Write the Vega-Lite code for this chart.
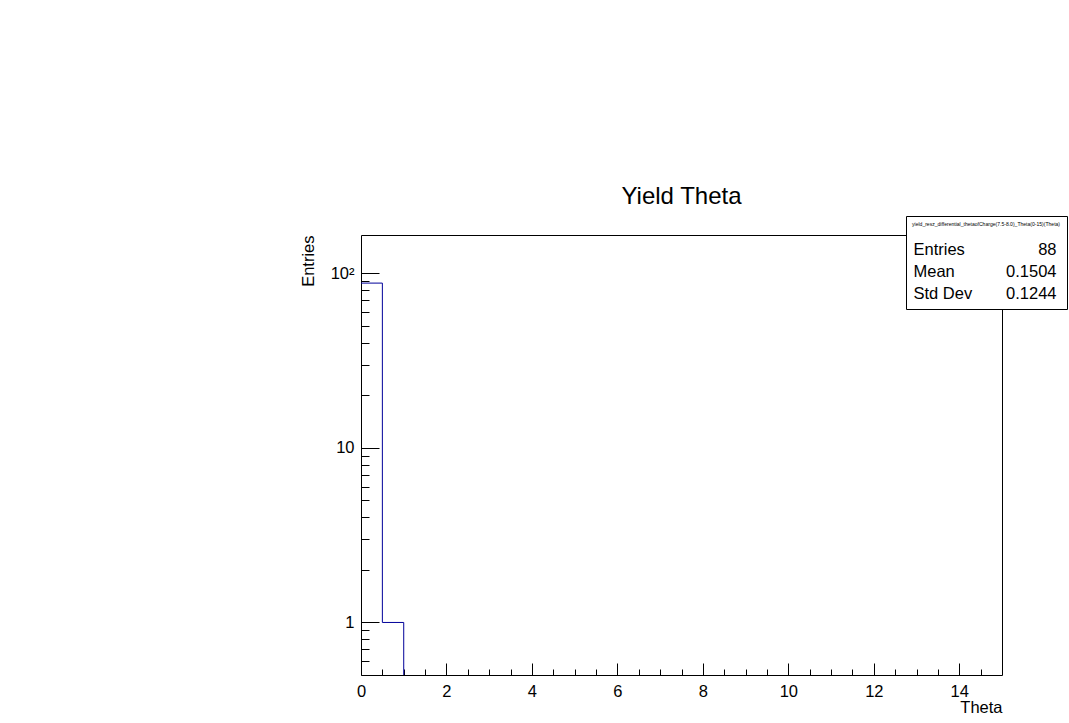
{
  "$schema": "https://vega.github.io/schema/vega-lite/v6.json",
  "width": 641,
  "height": 440,
  "autosize": {"type": "none"},
  "padding": {"left": 361, "top": 235, "right": 67, "bottom": 48},
  "background": "white",
  "config": {
    "view": {"stroke": "black", "strokeWidth": 1},
    "font": "Liberation Sans",
    "axis": {
      "domain": false, "grid": false, "tickColor": "black", "tickWidth": 1,
      "labelColor": "black", "titleColor": "black",
      "labelFont": "Liberation Sans", "titleFont": "Liberation Sans",
      "titleFontWeight": "normal", "zindex": 1
    }
  },
  "title": {
    "text": "Yield Theta", "font": "Liberation Sans", "fontSize": 24,
    "fontWeight": "normal", "anchor": "middle", "baseline": "alphabetic",
    "offset": -12, "color": "black"
  },
  "datasets": {
    "hist": [
      {"lo": 0, "hi": 0.5, "n": 88},
      {"lo": 0.5, "hi": 1.0, "n": 1}
    ],
    "stats": [
      {"stat": "Entries", "value": "88"},
      {"stat": "Mean", "value": "0.1504"},
      {"stat": "Std Dev", "value": "0.1244"}
    ]
  },
  "layer": [
    {
      "data": {"name": "hist"},
      "mark": {"type": "rule", "color": "#000099", "strokeWidth": 1},
      "encoding": {
        "x": {
          "field": "lo", "type": "quantitative",
          "scale": {"domain": [0, 15], "nice": false, "zero": false},
          "axis": {
            "orient": "bottom", "values": [0, 2, 4, 6, 8, 10, 12, 14],
            "tickSize": -12, "labelPadding": 20, "labelFontSize": 16.5,
            "format": "d", "labelFlush": false, "labelOverlap": false,
            "title": "Theta", "titleAnchor": "end", "titleAlign": "right",
            "titleFontSize": 16.5, "titlePadding": 0
          }
        },
        "x2": {"field": "hi"},
        "y": {
          "field": "n", "type": "quantitative",
          "scale": {"type": "log", "domain": [0.5, 166], "nice": false},
          "axis": {
            "orient": "left", "values": [1, 10, 100],
            "tickSize": -18, "labelPadding": 25, "labelFontSize": 16.5,
            "labelExpr": "datum.value >= 100 ? '10²' : format(datum.value, 'd')",
            "title": "Entries", "titleFontSize": 16.5, "titleAngle": 270,
            "titleX": -48, "titleY": 0, "titleAlign": "right", "titleBaseline": "alphabetic"
          }
        }
      }
    },
    {
      "data": {"name": "hist"},
      "transform": [
        {"window": [{"op": "lead", "field": "n", "as": "next"}], "sort": [{"field": "lo"}]},
        {"filter": "datum.next != null"}
      ],
      "mark": {"type": "rule", "color": "#000099", "strokeWidth": 1},
      "encoding": {
        "x": {
          "field": "hi", "type": "quantitative",
          "axis": {
            "orient": "bottom",
            "values": [0.5, 1, 1.5, 2.5, 3, 3.5, 4.5, 5, 5.5, 6.5, 7, 7.5, 8.5, 9, 9.5, 10.5, 11, 11.5, 12.5, 13, 13.5, 14.5],
            "tickSize": -6, "labels": false, "title": null
          }
        },
        "y": {
          "field": "n", "type": "quantitative",
          "axis": {
            "orient": "left",
            "values": [0.6, 0.7, 0.8, 0.9, 2, 3, 4, 5, 6, 7, 8, 9, 20, 30, 40, 50, 60, 70, 80, 90],
            "tickSize": -8, "labels": false, "title": null
          }
        },
        "y2": {"field": "next"}
      }
    },
    {
      "data": {"name": "hist"},
      "transform": [
        {"window": [{"op": "lead", "field": "n", "as": "next"}], "sort": [{"field": "lo"}]},
        {"filter": "datum.next == null"}
      ],
      "mark": {"type": "rule", "color": "#000099", "strokeWidth": 1},
      "encoding": {
        "x": {"field": "hi", "type": "quantitative", "axis": null},
        "y": {"field": "n", "type": "quantitative", "axis": null},
        "y2": {"value": "height"}
      }
    },
    {
      "data": {"name": "stats"},
      "mark": {"type": "point", "opacity": 0},
      "encoding": {
        "color": {
          "field": "stat", "type": "nominal",
          "scale": {"range": ["black", "black", "black"]},
          "legend": {
            "orient": "none", "legendX": 545, "legendY": -19,
            "title": "yield_resz_differential_thetaofCharge(7.5-8.0)_Theta(0-15)(Theta)",
            "titleFont": "Liberation Sans", "titleFontSize": 5.05, "titleFontWeight": "normal",
            "titleColor": "black", "titlePadding": 15, "titleLimit": 0,
            "padding": 6, "strokeColor": "black", "fillColor": "white",
            "symbolSize": 0, "symbolOpacity": 0, "symbolStrokeWidth": 0,
            "labelFont": "Liberation Sans", "labelFontSize": 16.5, "labelColor": "black",
            "labelOffset": -15, "rowPadding": 5, "labelLimit": 0
          }
        },
        "shape": {
          "field": "value", "type": "nominal",
          "scale": {"domain": ["88", "0.1504", "0.1244"]},
          "legend": {
            "orient": "none", "legendX": 689, "legendY": 1,
            "title": null,
            "padding": 6,
            "symbolSize": 0, "symbolOpacity": 0, "symbolStrokeWidth": 0,
            "labelFont": "Liberation Sans", "labelFontSize": 16.5, "labelColor": "black",
            "labelAlign": "right", "labelOffset": -16, "rowPadding": 5, "labelLimit": 0
          }
        }
      }
    }
  ],
  "resolve": {"axis": {"x": "independent", "y": "independent"}}
}
